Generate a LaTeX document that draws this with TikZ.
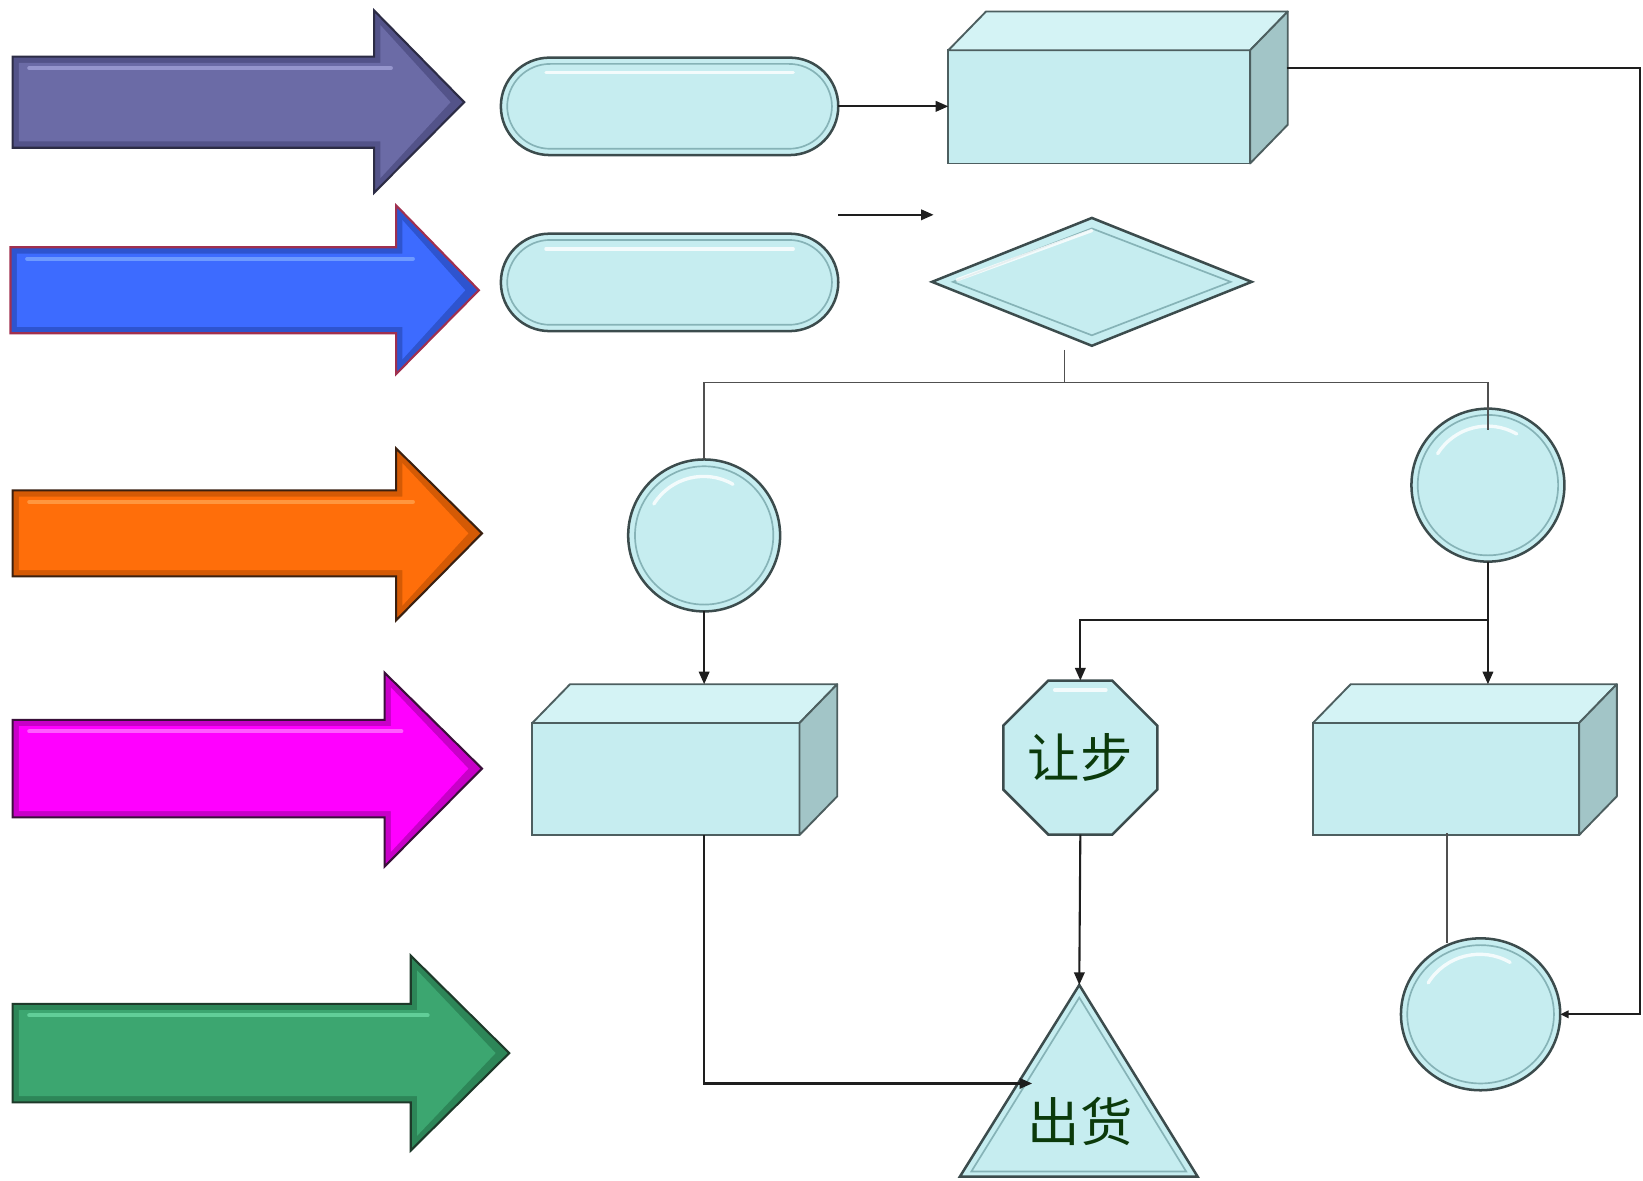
\documentclass[tikz,border=0pt]{standalone}
\usepackage{fontspec}
\newfontfamily\cjk{Noto Sans CJK SC}
\usetikzlibrary{shapes.geometric,shapes.misc,arrows.meta,calc}
\definecolor{shfill}{HTML}{C6EDF0}
\definecolor{shbd}{HTML}{3C4C4D}
\definecolor{bevc}{HTML}{86B3B7}
\definecolor{topf}{HTML}{D4F3F5}
\definecolor{sidef}{HTML}{A2C5C7}
\definecolor{boxbd}{HTML}{4D5F60}
\definecolor{lnc}{HTML}{1E1E1E}
\definecolor{lng}{HTML}{505050}
\definecolor{txtg}{HTML}{0B3A0B}
% block arrow colours
\definecolor{purmain}{HTML}{6B6BA6}\definecolor{purrim}{HTML}{535389}\definecolor{purhl}{HTML}{9B9BD2}\definecolor{purbd}{HTML}{2C2C45}
\definecolor{blumain}{HTML}{3D6BFF}\definecolor{blurim}{HTML}{2E54CF}\definecolor{bluhl}{HTML}{74A0FF}\definecolor{blubd}{HTML}{A0304F}
\definecolor{orgmain}{HTML}{FF6E0A}\definecolor{orgrim}{HTML}{D45A05}\definecolor{orghl}{HTML}{FF9B45}\definecolor{orgbd}{HTML}{3A2010}
\definecolor{magmain}{HTML}{FF00FF}\definecolor{magrim}{HTML}{C800C8}\definecolor{maghl}{HTML}{FF66FF}\definecolor{magbd}{HTML}{3A103A}
\definecolor{grnmain}{HTML}{3CA670}\definecolor{grnrim}{HTML}{2D8658}\definecolor{grnhl}{HTML}{66D39D}\definecolor{grnbd}{HTML}{1E3A2A}
% #1 x0 #2 body top #3 body bottom #4 head x #5 head top #6 head bottom #7 tip x #8 colour prefix
\newcommand\blockarr[8]{%
  \pgfmathsetmacro\ymid{(#2+#3)/2}
  \draw[draw=#8bd, fill=#8rim, line width=1pt, line join=miter]
    (#1,#2) -- (#4,#2) -- (#4,#5) -- (#7,\ymid) -- (#4,#6) -- (#4,#3) -- (#1,#3) -- cycle;
  \fill[#8main]
    (#1+6,#2+6) -- (#4+6,#2+6) -- (#4+6,#5+14) -- (#7-13,\ymid) -- (#4+6,#6-14) -- (#4+6,#3-6) -- (#1+6,#3-6) -- cycle;
  \draw[#8hl, line width=2pt, line cap=round, opacity=.9] (#1+16,#2+11) -- (#4+16,#2+11);
}
\begin{document}
\begin{tikzpicture}[x=0.5pt,y=-0.5pt,
  cyanshape/.style={draw=shbd, fill=shfill, line width=1.2pt, inner sep=0pt, outer sep=0pt},
  pill/.style={cyanshape, rounded rectangle, minimum width=161pt, minimum height=46.5pt},
  ball/.style={cyanshape, circle},
  face/.style={draw=boxbd, line width=0.9pt, line join=round},
  frontface/.style={draw=boxbd, fill=shfill, line width=0.9pt, rectangle, inner sep=0pt, outer sep=0pt},
  bevel/.style={draw=bevc, line width=0.8pt},
  hilite/.style={draw=white, opacity=0.8, line width=1.6pt, line cap=round},
  conn/.style={draw=lnc, line width=1pt, -{Triangle[length=6pt,width=5pt]}},
  plainln/.style={draw=lnc, line width=1pt},
  greyln/.style={draw=lng, line width=0.8pt},
  cjktext/.style={font=\cjk\fontsize{25pt}{27pt}\selectfont, text=txtg}
]
\useasboundingbox (0,0) rectangle (1568,1127);
\fill[white] (0,0) rectangle (1568,1127);

% ---- left block arrows ----
\blockarr{12}{54}{141}{357}{10}{184}{443}{pur}
\blockarr{10}{236}{318}{378}{196}{357}{457}{blu}
\blockarr{12}{468}{550}{378}{428}{592}{460}{org}
\blockarr{12}{687}{780}{367}{642}{827}{460}{mag}
\blockarr{12}{958}{1052}{392}{912}{1098}{486}{grn}

% ---- pills ----
\node[pill] (p1) at (639,101.5) {};
\node[pill] (p2) at (639,269.5) {};
\foreach \p in {p1,p2}{
  \draw[bevel, rounded corners=20.5pt] ($(\p.center)+(-155,-40.5)$) rectangle ($(\p.center)+(155,40.5)$);
  \draw[hilite] ($(\p.center)+(-118,-32)$) -- ($(\p.center)+(118,-32)$);
}

% ---- cuboids ----
\node[frontface, minimum width=144pt, minimum height=54pt] (b1) at (1049,102) {};
\node[frontface, minimum width=127.5pt, minimum height=53.5pt] (b2) at (635.5,743.5) {};
\node[frontface, minimum width=127pt, minimum height=53.5pt] (b3) at (1380,743.5) {};
\foreach \b in {b1,b2,b3}{
  \draw[face, fill=topf] (\b.north west) -- ++(36,-37) -- ($(\b.north east)+(36,-37)$) -- (\b.north east) -- cycle;
  \draw[face, fill=sidef] (\b.north east) -- ++(36,-37) -- ($(\b.south east)+(36,-37)$) -- (\b.south east) -- cycle;
}

% ---- diamond ----
\node[cyanshape, diamond, minimum width=152.5pt, minimum height=61pt] (dm) at (1042,269) {};
\draw[bevel] ($(dm.north)+(0,10)$) -- ($(dm.east)+(-20,0)$) -- ($(dm.south)+(0,-10)$) -- ($(dm.west)+(20,0)$) -- cycle;
\draw[hilite] ($(dm.west)+(24,-2)$) -- ($(dm.north)+(0,12)$);

% ---- circles ----
\node[ball, minimum size=72.5pt] (c1) at (672,511) {};
\node[ball, minimum size=73pt] (c2) at (1420,463) {};
\node[cyanshape, ellipse, minimum width=76pt, minimum height=72.5pt] (c3) at (1413,968) {};
\draw[bevel] (c1.center) circle[radius=66];
\draw[bevel] (c2.center) circle[radius=67];
\draw[bevel] (c3.center) ellipse[x radius=70, y radius=66];
\draw[hilite] ($(c1.center)+(-48,-30)$) arc[start angle=212, end angle=300, radius=56];
\draw[hilite] ($(c2.center)+(-48,-30)$) arc[start angle=212, end angle=300, radius=56];
\draw[hilite] ($(c3.center)+(-50,-30)$) arc[start angle=212, end angle=300, radius=58];

% ---- octagon ----
\node[cyanshape, regular polygon, regular polygon sides=8, minimum size=79.6pt, cjktext] (oct) at (1031,723) {让步};
\draw[hilite] ($(oct.corner 2)+(6,9)$) -- ($(oct.corner 1)+(-6,9)$);

% ---- triangle ----
\coordinate (tA) at (1030,940);
\coordinate (tL) at (916,1123);
\coordinate (tR) at (1143,1123);
\draw[cyanshape, line join=miter] (tA) -- (tR) -- (tL) -- cycle;
\draw[bevel] ($(tA)+(0,12)$) -- ($(tR)+(-11,-5)$) -- ($(tL)+(11,-5)$) -- cycle;
\node[cjktext] (ship) at (1031,1070) {出货};

% ---- connector helper coordinates ----
\coordinate (fa1) at (800,205);
\coordinate (fa2) at (891,205);
\coordinate (ds1) at (1016,334);
\coordinate (jL) at (672,365);
\coordinate (jM) at (1016,365);
\coordinate (jR) at (1420,365);
\coordinate (c2in) at (1420,410);
\coordinate (b2t) at (672,653);
\coordinate (j2) at (1420,592);
\coordinate (b3t) at (1420,653);
\coordinate (b2b) at (672,797);
\coordinate (tin) at (985,1034);
\coordinate (b3b) at (1381,795);
\coordinate (c3t) at (1381,900);
\coordinate (b1r) at (1228,65);
\coordinate (rc) at (1565,65);

% ---- connectors ----
\draw[conn] (p1.east) -- (b1.west |- p1.east);
\draw[conn] (fa1) -- (fa2);
\draw[greyln] (ds1) -- (jM);
\draw[greyln] (c1.north) -- (jL) -- (jR) -- (c2in);
\draw[conn] (c1.south) -- (b2t);
\draw[plainln] (c2.south) -- (j2);
\draw[conn] (j2) -- (b3t);
\draw[conn] (j2) -| (oct.north);
\draw[conn] (oct.south) -- (tA);
\draw[conn] (b2b) |- (tin);
\draw[greyln] (b3b) -- (c3t);
\draw[plainln, -{Triangle[length=4pt,width=3.5pt]}] (b1r) -- (rc) |- (c3.east);
\end{tikzpicture}
\end{document}
